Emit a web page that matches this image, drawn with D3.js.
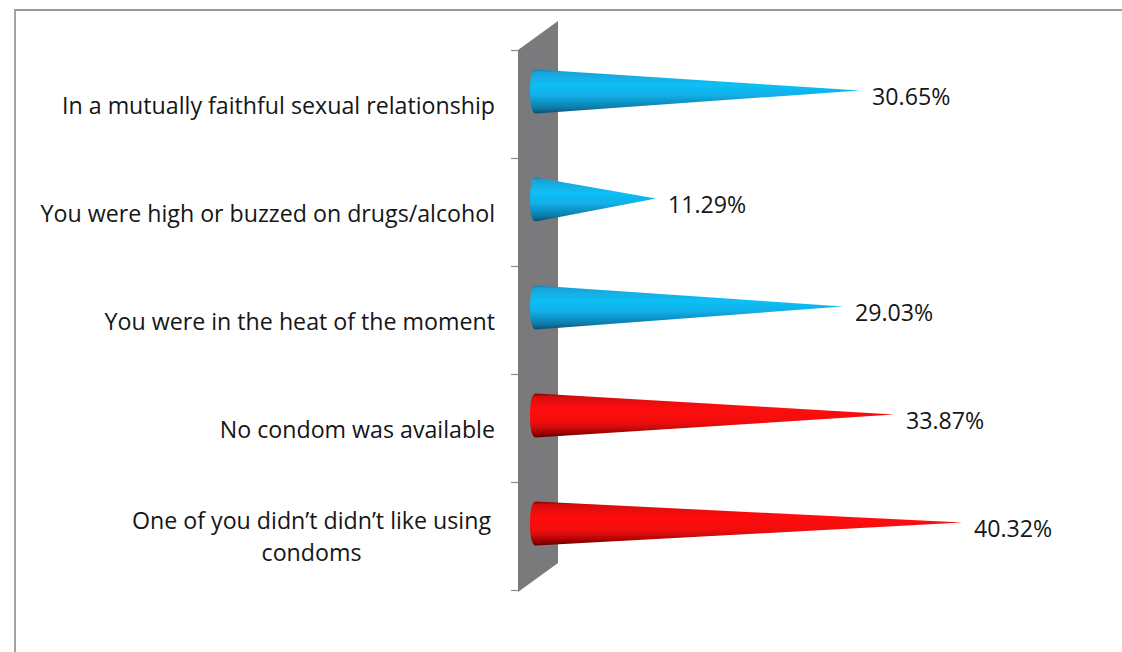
<!DOCTYPE html>
<html><head><meta charset="utf-8">
<script src="https://cdn.jsdelivr.net/npm/d3@7/dist/d3.min.js"></script>
<style>html,body{margin:0;padding:0;background:#fff;overflow:hidden}svg{display:block}text{font-family:"Open Sans",sans-serif;fill:#161616}</style>
</head><body><svg id="c" width="1122" height="652"></svg>
<script>
const categories = ["In a mutually faithful sexual relationship","You were high or buzzed on drugs/alcohol","You were in the heat of the moment","No condom was available","One of you didn’t didn’t like using condoms"];
const values = [30.65,11.29,29.03,33.87,40.32];
const valueLabels = ["30.65%","11.29%","29.03%","33.87%","40.32%"];
const seriesColors = ["blue","blue","blue","red","red"];

const svg = d3.select("#c");
const x = d3.scaleLinear().domain([0,40.32]).range([537,962]);
const y = d3.scaleBand().domain(categories).range([50,590]);
const depth = 40, rise = 29;
const defs = svg.append("defs");
const shades = {
 blue:[["0%","#0f7fb0"],["6%","#17a3d8"],["35%","#0fc0f5"],["60%","#12aee6"],["85%","#0a80ae"],["100%","#07506f"]],
 red:[["0%","#8f0505"],["8%","#d80808"],["35%","#ff0a0a"],["65%","#f20808"],["88%","#a80606"],["100%","#5a0303"]]
};
Object.entries(shades).forEach(([k,st])=>{
  const g=defs.append("linearGradient").attr("id","g-"+k).attr("x1",0).attr("x2",0).attr("y1",0).attr("y2",1);
  st.forEach(s=>g.append("stop").attr("offset",s[0]).attr("stop-color",s[1]));
});
defs.append("filter").attr("id","soft").append("feGaussianBlur").attr("stdDeviation",0.7);

svg.append("path").attr("d","M15,652V10H1122").attr("fill","none").attr("stroke","#9a9a9a").attr("stroke-width",1.8);

const [t0,t1]=y.range();
svg.append("path").attr("fill","#7a7a7c").attr("filter","url(#soft)")
 .attr("d",d3.line()([[518,t0],[518+depth,t0-rise],[518+depth,t1-rise+2],[518,t1+2]])+"Z");

const tickPos=[...categories.map(c=>y(c)),t1];
svg.selectAll("line.tick").data(tickPos).join("line").attr("class","tick")
 .attr("x1",511).attr("x2",518).attr("y1",d=>d+.5).attr("y2",d=>d+.5).attr("stroke","#8a8a8a").attr("stroke-width",1.2);

const halfH=22, cx=d=>y(d.c)+y.bandwidth()/2-12.5;
const data=categories.map((c,i)=>({c,v:values[i],l:valueLabels[i],k:seriesColors[i]}));
svg.selectAll("path.cone").data(data).join("path").attr("class","cone")
 .attr("fill",d=>`url(#g-${d.k})`).attr("filter","url(#soft)")
 .attr("d",d=>{const m=cx(d),x0=536,tip=x(d.v);
   return `M${tip},${m-1}L${x0},${m-halfH}Q${x0-6},${m-halfH} ${x0-6},${m}Q${x0-6},${m+halfH} ${x0},${m+halfH}Z`;});

const wrap={4:["One of you didn’t didn’t like using","condoms"]};
const fs=23.2;
svg.selectAll("text.cat").data(data).join("text").attr("class","cat")
 .attr("font-size",fs)
 .each(function(d,i){
   const sel=d3.select(this);
   if(wrap[i]){
     wrap[i].forEach((t,j)=>sel.append("tspan").text(t).attr("y",cx(d)+5+j*32.5).attr("x",311.5).attr("text-anchor","middle"));
   } else {
     sel.append("tspan").text(d.c).attr("y",cx(d)+22).attr("x",495).attr("text-anchor","end");
   }
 });

svg.selectAll("text.val").data(data).join("text").attr("class","val")
 .attr("font-size",fs).attr("x",d=>x(d.v)+12).attr("y",d=>cx(d)+13.5).text(d=>d.l);
</script></body></html>
